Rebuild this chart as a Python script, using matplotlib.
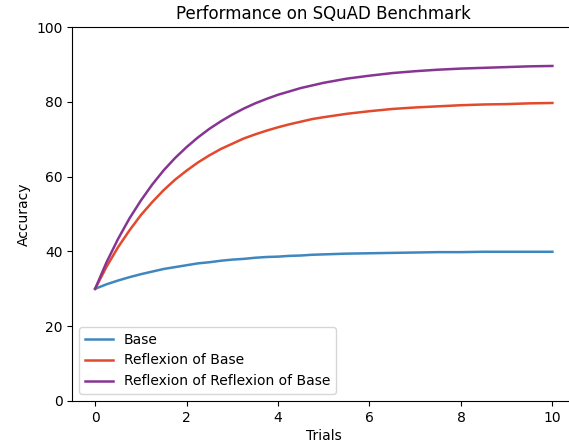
import matplotlib
matplotlib.use("Agg")
import matplotlib.pyplot as plt

# Accuracy readings per trial
trials = [0, 0.25, 0.5, 0.75, 1, 1.25, 1.5, 1.75, 2, 2.25, 2.5, 2.75, 3,
          3.25, 3.5, 3.75, 4, 4.25, 4.5, 4.75, 5, 5.5, 6, 6.5, 7, 7.5, 8,
          8.5, 9, 9.5, 10]
base = [30.0, 31.2, 32.2, 33.1, 33.9, 34.6, 35.3, 35.8, 36.3, 36.8, 37.1,
        37.5, 37.8, 38.0, 38.3, 38.5, 38.6, 38.8, 38.9, 39.1, 39.2, 39.4,
        39.5, 39.6, 39.7, 39.8, 39.8, 39.9, 39.9, 39.9, 39.9]
reflexion = [30.0, 35.9, 41.1, 45.6, 49.7, 53.2, 56.4, 59.2, 61.6, 63.8,
             65.7, 67.4, 68.8, 70.2, 71.3, 72.3, 73.2, 74.0, 74.7, 75.4,
             75.9, 76.8, 77.5, 78.1, 78.5, 78.8, 79.1, 79.3, 79.4, 79.6,
             79.7]
reflexion2 = [30.0, 37.1, 43.3, 48.8, 53.6, 57.9, 61.7, 65.0, 67.9, 70.5,
              72.8, 74.8, 76.6, 78.2, 79.6, 80.8, 81.9, 82.8, 83.7, 84.4,
              85.1, 86.2, 87.0, 87.7, 88.2, 88.6, 88.9, 89.1, 89.3, 89.5,
              89.6]
labels = ["Base", "Reflexion of Base", "Reflexion of Reflexion of Base"]
colors = ["#3f87be", "#e2492d", "#873592"]

fig = plt.figure(figsize=(5.69, 4.44), dpi=100)
ax = fig.add_axes([0.127, 0.097, 0.884, 0.842])

for ys, lab, c in zip([base, reflexion, reflexion2], labels, colors):
    ax.plot(trials, ys, color=c, linewidth=1.8, label=lab,
            solid_joinstyle="round")

ax.set_xlim(-0.5, 10.5)
ax.set_ylim(0, 100)
ax.set_xticks([0, 2, 4, 6, 8, 10])
ax.set_yticks([0, 20, 40, 60, 80, 100])
ax.tick_params(labelsize=10)
ax.set_xlabel("Trials", fontsize=10, labelpad=3)
ax.set_ylabel("Accuracy", fontsize=10)
ax.set_title("Performance on SQuAD Benchmark", fontsize=12)
ax.legend(loc="lower left", fontsize=10)

fig.savefig("out.png", dpi=100)
